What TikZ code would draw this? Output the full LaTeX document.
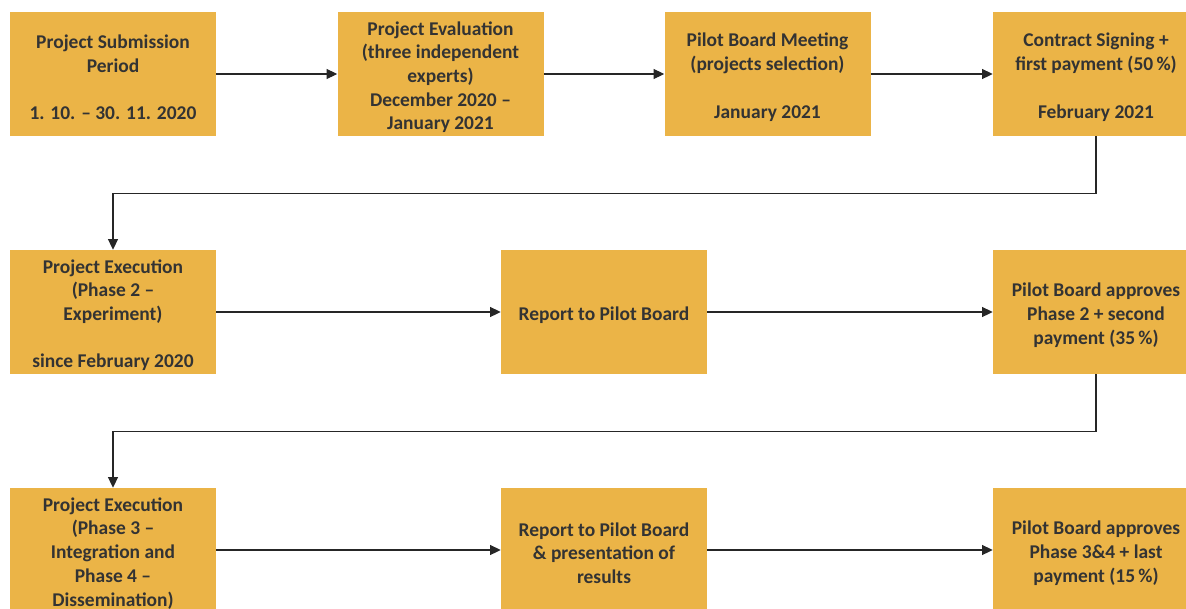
\documentclass[tikz,border=0pt]{standalone}
\usepackage{fontspec}
\setmainfont{Carlito}
\usetikzlibrary{arrows.meta}
\definecolor{boxfill}{HTML}{EBB447}
\definecolor{boxtext}{HTML}{333333}
\tikzset{
  stepbox/.style={rectangle, fill=boxfill, minimum width=154.5pt, minimum height=93pt, inner sep=0pt},
  boxlabel/.style={text=boxtext, align=center, inner sep=0pt, yshift=-2.4pt,
    font=\fontsize{14.6pt}{17.8pt}\selectfont\bfseries},
  conn/.style={draw=black!85, line width=0.8pt, -{Triangle[length=8pt,width=7.5pt]}}
}
\begin{document}
\begin{tikzpicture}[x=0.75pt,y=-0.75pt]
\useasboundingbox (0,0) rectangle (1186,608);
\clip (0,0) rectangle (1186,608);
\node[stepbox, label={[boxlabel]center:{Project Submission\\Period\\~\\1. 10. – 30. 11. 2020}}] (b1) at (113,74) {};
\node[stepbox, label={[boxlabel]center:{Project Evaluation\\(three independent\\experts)\\December 2020 –\\January 2021}}] (b2) at (440.5,74) {};
\node[stepbox, label={[boxlabel]center:{Pilot Board Meeting\\(projects selection)\\~\\January 2021}}] (b3) at (767.5,74) {};
\node[stepbox, label={[boxlabel]center:{Contract Signing +\\first payment (50\,\%)\\~\\February 2021}}] (b4) at (1096,74) {};
\node[stepbox, label={[boxlabel]center:{Project Execution\\(Phase 2 –\\Experiment)\\~\\since February 2020}}] (b5) at (113,312) {};
\node[stepbox, label={[boxlabel]center:{Report to Pilot Board}}] (b6) at (604,312) {};
\node[stepbox, label={[boxlabel]center:{Pilot Board approves\\Phase 2 + second\\payment (35\,\%)}}] (b7) at (1096,312) {};
\node[stepbox, label={[boxlabel]center:{Project Execution\\(Phase 3 –\\Integration and\\Phase 4 –\\Dissemination)}}] (b8) at (113,550) {};
\node[stepbox, label={[boxlabel]center:{Report to Pilot Board\\\& presentation of\\results}}] (b9) at (604,550) {};
\node[stepbox, label={[boxlabel]center:{Pilot Board approves\\Phase 3\&4 + last\\payment (15\,\%)}}] (b10) at (1096,550) {};
\draw[conn] (b1) -- (b2);
\draw[conn] (b2) -- (b3);
\draw[conn] (b3) -- (b4);
\draw[conn] (b4.south) -- ++(0,57) -| (b5.north);
\draw[conn] (b5) -- (b6);
\draw[conn] (b6) -- (b7);
\draw[conn] (b7.south) -- ++(0,57) -| (b8.north);
\draw[conn] (b8) -- (b9);
\draw[conn] (b9) -- (b10);
\end{tikzpicture}
\end{document}
